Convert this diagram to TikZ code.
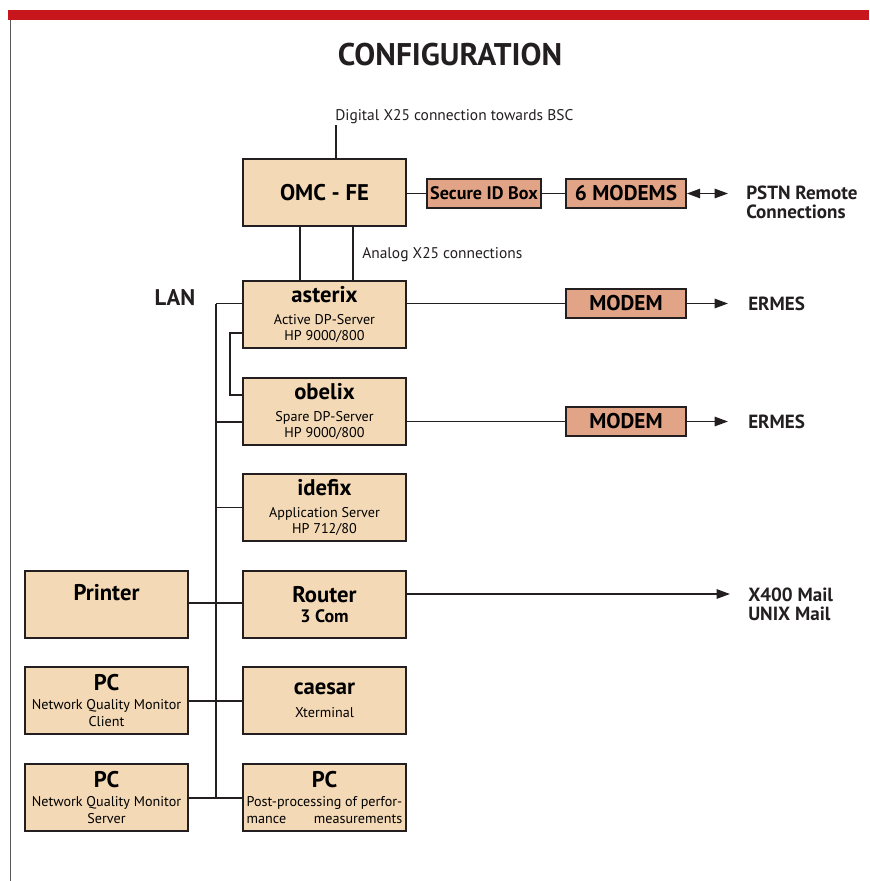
\documentclass[tikz,border=0pt]{standalone}
\usepackage{fontspec}
\setmainfont{PT Sans}
\usepackage{calc}
\usetikzlibrary{arrows.meta}
\definecolor{beige}{HTML}{F3D9B6}
\definecolor{salmon}{HTML}{E2A487}
\definecolor{redbar}{HTML}{C8161D}
\definecolor{ink}{HTML}{231F20}
\newcommand\nm[1]{{\fontsize{17}{18}\selectfont\bfseries #1}}
\newcommand\sub[1]{{\bfseries\fontsize{13.5}{14}\selectfont #1}}
\begin{document}
\begin{tikzpicture}[x=0.75pt,y=-0.75pt,
  box/.style={draw=ink, line width=1.2pt, fill=beige, minimum width=122.25pt, minimum height=50.25pt, inner sep=0pt, align=center, font=\fontsize{10.6}{12.4}\selectfont},
  modembox/.style={draw=ink, line width=1.2pt, fill=salmon, minimum height=21.75pt, inner sep=0pt, font=\bfseries\fontsize{16}{16}\selectfont},
  conn/.style={draw=ink, line width=1.3pt},
  arr/.style={conn, -{Triangle[length=10pt,width=7pt]}},
  darr/.style={conn, {Triangle[length=10pt,width=7pt]}-{Triangle[length=10pt,width=7pt]}},
  lbl/.style={inner sep=0pt, font=\fontsize{11.6}{13}\selectfont, text=ink},
  ext/.style={inner sep=0pt, align=left, font=\bfseries\fontsize{14.3}{14.2}\selectfont, text=ink}]
\useasboundingbox (0,0) rectangle (869,881);
\fill[white] (0,0) rectangle (869,881);
% frame
\fill[redbar] (8,10) rectangle (869,20);
\draw[gray!70!black, line width=0.6pt] (10,20) -- (10,881);
\node[inner sep=0pt, font=\bfseries\fontsize{23.5}{26}\selectfont, text=ink] (title) at (450,55) {CONFIGURATION};

% boxes
\node[box] (omc) at (324.5,192.5) {\nm{OMC - FE}};
\node[modembox, minimum width=85.5pt, font=\bfseries\fontsize{13.6}{14}\selectfont] (sid) at (484,193.5) {Secure ID Box};
\node[modembox, minimum width=90pt] (m6) at (626,193.5) {6 MODEMS};
\node[box] (asterix) at (324.5,314.5) {\nm{asterix}\\[4pt]Active DP-Server\\HP 9000/800};
\node[box] (obelix) at (324.5,411.5) {\nm{obelix}\\[4pt]Spare DP-Server\\HP 9000/800};
\node[box] (idefix) at (324.5,507.5) {\nm{idefix}\\[4pt]Application Server\\HP 712/80};
\node[box] (router) at (324.5,604.5) {\nm{Router}\\[2pt]\sub{3 Com}};
\node[box] (printer) at (106.5,604.5) {\nm{Printer}\\[6pt]\sub{\phantom{3 Com}}};
\node[box] (caesar) at (324.5,700.5) {\nm{caesar}\\[5pt]Xterminal};
\node[box] (pcc) at (106.5,700.5) {\nm{PC}\\[2pt]Network Quality Monitor\\Client};
\node[box] (pcs) at (106.5,797.5) {\nm{PC}\\[2pt]Network Quality Monitor\\Server};
\node[box] (pcp) at (324.5,797.5) {\nm{PC}\\[2pt]Post-processing of perfor-\\\makebox[\widthof{Post-processing of perfor-}]{mance\hfill measurements}};
\node[modembox, minimum width=90pt] (mo1) at (626,303.5) {MODEM};
\node[modembox, minimum width=90pt] (mo2) at (626,421.5) {MODEM};

% labels
\node[lbl, anchor=west] (dig) at (335,117) {Digital X25 connection towards BSC};
\node[lbl, anchor=west] (ana) at (362,255) {Analog X25 connections};
\node[ext, font=\bfseries\fontsize{17}{18}\selectfont] (lan) at (175,298) {LAN};
\node[ext, anchor=west] (pstn) at (746,202.5) {PSTN Remote\\Connections};
\node[ext, anchor=west] (erm1) at (748,304) {ERMES};
\node[ext, anchor=west] (erm2) at (748,422) {ERMES};
\node[ext, anchor=west] (mail) at (748,604.5) {X400 Mail\\UNIX Mail};

% top connections
\coordinate (digend) at (336,125);
\draw[conn] (digend) -- (digend |- omc.north);
\draw[conn] (omc.east |- sid.west) -- (sid.west);
\draw[conn] (sid.east) -- (m6.west);
\coordinate (pstnend) at (728,193.5);
\draw[darr] (m6.east) -- (pstnend);
\coordinate (an1) at (300,0);
\coordinate (an2) at (353,0);
\draw[conn] (an1 |- omc.south) -- (an1 |- asterix.north);
\draw[conn] (an2 |- omc.south) -- (an2 |- asterix.north);

% modem links
\coordinate (e1) at (728,303.5);
\coordinate (e2) at (728,421.5);
\draw[conn] (asterix.east |- mo1.west) -- (mo1.west);
\draw[arr] (mo1.east) -- (e1);
\draw[conn] (obelix.east |- mo2.west) -- (mo2.west);
\draw[arr] (mo2.east) -- (e2);
\coordinate (e3) at (730,594);
\draw[arr] (router.east |- e3) -- (e3);

% LAN bus
\coordinate (btop) at (216,303.5);
\coordinate (bbot) at (216,798);
\draw[conn] (btop) -- (bbot);
\draw[conn] (btop) -- (btop -| asterix.west);
\coordinate (s1) at (230,333);
\coordinate (s2) at (230,395);
\draw[conn] (s1 -| asterix.west) -- (s1) -- (s2) -- (s2 -| obelix.west);
\coordinate (b2) at (216,422);
\draw[conn] (b2) -- (b2 -| obelix.west);
\coordinate (b3) at (216,507.5);
\draw[conn] (b3) -- (b3 -| idefix.west);
\coordinate (b4) at (216,603);
\draw[conn] (b4 -| printer.east) -- (b4 -| router.west);
\coordinate (b5) at (216,701);
\draw[conn] (b5 -| pcc.east) -- (b5 -| caesar.west);
\coordinate (b6) at (216,798);
\draw[conn] (b6 -| pcs.east) -- (b6 -| pcp.west);
\end{tikzpicture}
\end{document}
